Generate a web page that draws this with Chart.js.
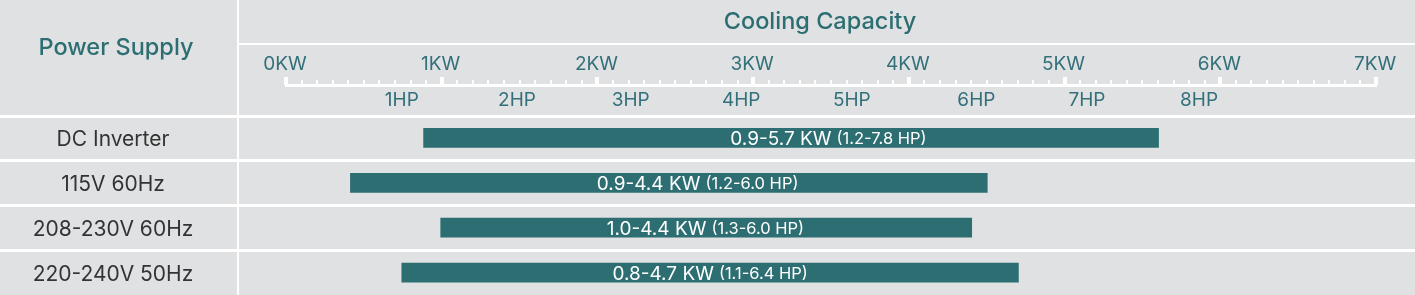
<!DOCTYPE html>
<html>
<head>
<meta charset="utf-8">
<script src="https://cdn.jsdelivr.net/npm/chart.js@4/dist/chart.umd.min.js"></script>
<style>
  html, body { margin: 0; padding: 0; background: #e0e1e3; }
  #wrap { width: 1415px; height: 295px; position: relative; }
</style>
</head>
<body>
<div id="wrap"><canvas id="capacityChart"></canvas></div>
<script>
// Datos
const powerSupplies = ['DC Inverter', '115V 60Hz', '208-230V 60Hz', '220-240V 50Hz'];
const rangeStartKw = [0.89, 0.42, 1.0, 0.75];
const rangeEndKw = [5.61, 4.51, 4.41, 4.71];
const kwRangeText = ['0.9-5.7 KW', '0.9-4.4 KW', '1.0-4.4 KW', '0.8-4.7 KW'];
const hpRangeText = ['(1.2-7.8 HP)', '(1.2-6.0 HP)', '(1.3-6.0 HP)', '(1.1-6.4 HP)'];
const labelCenterKw = [3.49, 2.65, 2.70, 2.73];

const kwTicks = [0, 1, 2, 3, 4, 5, 6, 7];
const kwTickLabels = ['0KW', '1KW', '2KW', '3KW', '4KW', '5KW', '6KW', '7KW'];
const hpTicks = [0.75, 1.49, 2.22, 2.93, 3.64, 4.44, 5.15, 5.87];
const hpTickLabels = ['1HP', '2HP', '3HP', '4HP', '5HP', '6HP', '7HP', '8HP'];

const TEAL = '#2d6e72';
const FONT = 'Inter, "Noto Sans", sans-serif';

// Plugin para el fondo, cabeceras, regla y textos
const tablePlugin = {
    id: 'tablePlugin',
    beforeDraw(chart) {
        const ctx = chart.ctx;
        const x = chart.scales.x;
        const y = chart.scales.y;
        const W = chart.width, H = chart.height;
        ctx.save();
        ctx.fillStyle = '#e0e1e3';
        ctx.fillRect(0, 0, W, H);

        // Lineas blancas de la tabla
        ctx.fillStyle = '#ffffff';
        ctx.fillRect(237, 0, 2, H);
        ctx.fillRect(239, 43, W - 239, 2);
        for (let i = 0; i < powerSupplies.length; i++) {
            const top = y.getPixelForValue(i) - (y.getPixelForValue(1) - y.getPixelForValue(0)) / 2;
            ctx.fillRect(0, Math.round(top) - 1, W, 3);
        }

        // Titulos
        ctx.fillStyle = TEAL;
        ctx.textAlign = 'center';
        ctx.textBaseline = 'alphabetic';
        ctx.font = '500 23.5px ' + FONT;
        ctx.fillText('Power Supply', 116, 55);
        ctx.fillText('Cooling Capacity', 820, 29);

        // Regla
        const x0 = x.getPixelForValue(0), x7 = x.getPixelForValue(7);
        ctx.fillStyle = '#ffffff';
        ctx.fillRect(x0, 84, x7 - x0 + 2, 3);
        for (let t = 0; t <= 70; t++) {
            const px = x.getPixelForValue(t / 10);
            if (t % 10 === 0) {
                ctx.fillRect(Math.round(px) - 1, 77, 4, 8);
            } else {
                ctx.fillRect(Math.round(px), 80, 2, 5);
            }
        }

        // Etiquetas KW y HP
        ctx.fillStyle = '#33707a';
        ctx.font = '19px ' + FONT;
        kwTicks.forEach((v, i) => {
            ctx.fillText(kwTickLabels[i], x.getPixelForValue(v), 70);
        });
        hpTicks.forEach((v, i) => {
            ctx.fillText(hpTickLabels[i], x.getPixelForValue(v), 106);
        });

        // Etiquetas de filas
        ctx.fillStyle = '#333333';
        ctx.font = '21px ' + FONT;
        powerSupplies.forEach((name, i) => {
            ctx.fillText(name, 113, y.getPixelForValue(i) + 8);
        });
        ctx.restore();
    },
    afterDatasetsDraw(chart) {
        const ctx = chart.ctx;
        const x = chart.scales.x;
        const y = chart.scales.y;
        ctx.save();
        ctx.fillStyle = '#ffffff';
        ctx.textBaseline = 'alphabetic';
        ctx.textAlign = 'left';
        powerSupplies.forEach((_, i) => {
            ctx.font = '19px ' + FONT;
            const w1 = ctx.measureText(kwRangeText[i]).width;
            ctx.font = '16.5px ' + FONT;
            const w2 = ctx.measureText(hpRangeText[i]).width;
            const gap = 5;
            const start = x.getPixelForValue(labelCenterKw[i]) - (w1 + gap + w2) / 2;
            const base = y.getPixelForValue(i) + 7.5;
            ctx.font = '19px ' + FONT;
            ctx.fillText(kwRangeText[i], start, base);
            ctx.font = '16.5px ' + FONT;
            ctx.fillText(hpRangeText[i], start + w1 + gap, base - 1);
        });
        ctx.restore();
    }
};

const ctx = document.getElementById('capacityChart');
new Chart(ctx, {
    type: 'bar',
    data: {
        labels: powerSupplies,
        datasets: [{
            data: rangeStartKw.map((s, i) => [s, rangeEndKw[i]]),
            backgroundColor: TEAL,
            borderWidth: 0,
            borderSkipped: false,
            barThickness: 19
        }]
    },
    options: {
        indexAxis: 'y',
        responsive: true,
        maintainAspectRatio: false,
        animation: false,
        layout: { padding: { left: 285, right: 40, top: 115.5, bottom: 0 } },
        plugins: {
            legend: { display: false },
            tooltip: { enabled: false }
        },
        scales: {
            x: { display: false, min: 0, max: 7 },
            y: { display: false }
        }
    },
    plugins: [tablePlugin]
});
</script>
</body>
</html>
